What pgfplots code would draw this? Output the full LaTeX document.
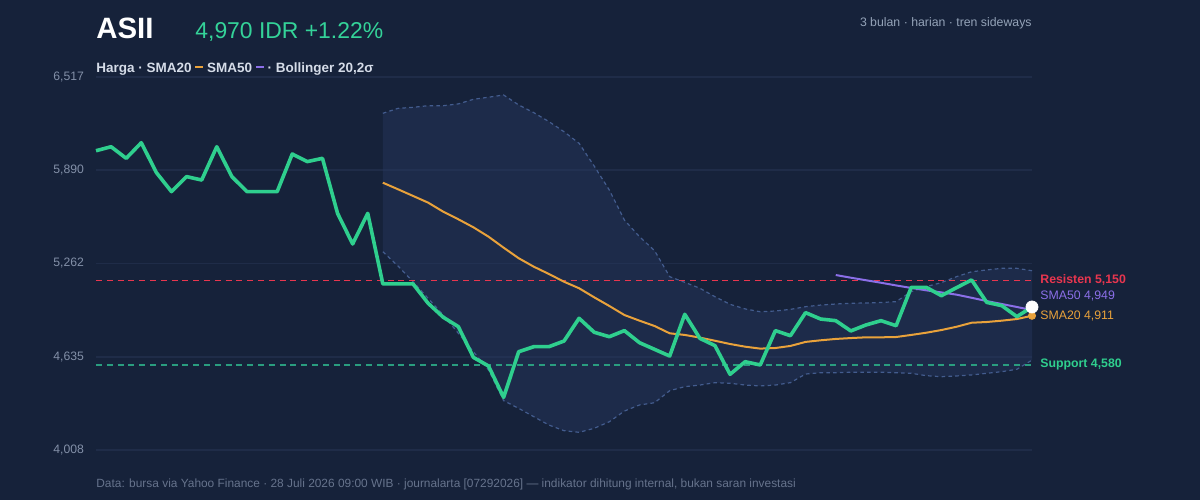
\documentclass[border=0pt]{standalone}
\usepackage{pgfplots}
\pgfplotsset{compat=1.18}
\usepackage{pgfplotstable}
\usepackage{fontspec}
\setmainfont{Liberation Sans}
\definecolor{bgc}{HTML}{16223A}
\definecolor{gridc}{HTML}{1F2C48}
\definecolor{bandc}{HTML}{26385F}
\definecolor{banddash}{HTML}{435C8E}
\definecolor{pricec}{HTML}{2FCF8E}
\definecolor{titlegreen}{HTML}{34D399}
\definecolor{orangec}{HTML}{E9A23B}
\definecolor{purplec}{HTML}{8B6FE8}
\definecolor{redc}{HTML}{E8364F}
\definecolor{suppc}{HTML}{2A9D7F}
\definecolor{tickgray}{HTML}{8390A8}
\definecolor{legc}{HTML}{D5DCE8}
\definecolor{subgray}{HTML}{94A3B8}
\definecolor{footgray}{HTML}{66738C}

\pgfplotstableread{
x y
0 6021
1 6048
2 5970
3 6075
4 5874
5 5746
6 5847
7 5824
8 6048
9 5847
10 5746
11 5746
12 5746
13 5999
14 5948
15 5970
16 5600
17 5394
18 5600
19 5125
20 5125
21 5125
22 4995
23 4901
24 4838
25 4631
26 4573
27 4362
28 4669
29 4703
30 4703
31 4741
32 4894
33 4800
34 4770
35 4811
36 4730
37 4685
38 4640
39 4921
40 4759
41 4710
42 4517
43 4602
44 4580
45 4811
46 4777
47 4932
48 4889
49 4878
50 4809
51 4849
52 4878
53 4844
54 5102
55 5102
56 5046
57 5100
58 5152
59 5001
60 4979
61 4905
62 4970
}\price

\pgfplotstableread{
x y
19 5806
20 5762
21 5717
22 5672
23 5611
24 5560
25 5506
26 5443
27 5369
28 5298
29 5241
30 5192
31 5140
32 5096
33 5035
34 4977
35 4916
36 4878
37 4842
38 4793
39 4782
40 4764
41 4743
42 4721
43 4703
44 4690
45 4694
46 4708
47 4735
48 4746
49 4755
50 4761
51 4766
52 4766
53 4768
54 4782
55 4797
56 4815
57 4837
58 4864
59 4869
60 4878
61 4889
62 4911
}\smatwenty

\pgfplotstableread{
x y
49 5185
50 5167
51 5150
52 5133
53 5115
54 5098
55 5082
56 5068
57 5053
58 5032
59 5010
60 4990
61 4970
62 4949
}\smafifty

\pgfplotstableread{
x up lo
19 6273 5342
20 6306 5246
21 6313 5140
22 6324 5028
23 6324 4916
24 6336 4793
25 6367 4669
26 6381 4546
27 6396 4340
28 6329 4288
29 6277 4232
30 6217 4176
31 6149 4138
32 6071 4127
33 5918 4154
34 5757 4198
35 5555 4270
36 5443 4311
37 5349 4326
38 5174 4407
39 5136 4434
40 5096 4445
41 5039 4461
42 4988 4457
43 4957 4445
44 4938 4439
45 4943 4445
46 4954 4461
47 4972 4519
48 4983 4528
49 4990 4528
50 4995 4531
51 4997 4531
52 5000 4531
53 5006 4528
54 5073 4524
55 5107 4508
56 5134 4501
57 5174 4506
58 5207 4513
59 5219 4524
60 5230 4535
61 5230 4551
62 5214 4613
}\boll

% band outline: upper band forward, lower band backward
\pgfplotstableread{
x y
19 6273
20 6306
21 6313
22 6324
23 6324
24 6336
25 6367
26 6381
27 6396
28 6329
29 6277
30 6217
31 6149
32 6071
33 5918
34 5757
35 5555
36 5443
37 5349
38 5174
39 5136
40 5096
41 5039
42 4988
43 4957
44 4938
45 4943
46 4954
47 4972
48 4983
49 4990
50 4995
51 4997
52 5000
53 5006
54 5073
55 5107
56 5134
57 5174
58 5207
59 5219
60 5230
61 5230
62 5214
62 4613
61 4551
60 4535
59 4524
58 4513
57 4506
56 4501
55 4508
54 4524
53 4528
52 4531
51 4531
50 4531
49 4528
48 4528
47 4519
46 4461
45 4445
44 4439
43 4445
42 4457
41 4461
40 4445
39 4434
38 4407
37 4326
36 4311
35 4270
34 4198
33 4154
32 4127
31 4138
30 4176
29 4232
28 4288
27 4340
26 4546
25 4669
24 4793
23 4916
22 5028
21 5140
20 5246
19 5342
}\bandpoly

\begin{document}
\begin{tikzpicture}
\fill[bgc] (0,0) rectangle (600pt,250pt);

\node[anchor=base west, inner sep=0, font=\bfseries\fontsize{14.7}{16}\selectfont, text=white] at (48pt,231pt) {ASII};
\node[anchor=base west, inner sep=0, font=\fontsize{11.45}{13}\selectfont, text=titlegreen] at (97.5pt,231pt) {4,970 IDR +1.22\%};
\node[anchor=base east, inner sep=0, font=\fontsize{6.15}{7}\selectfont, text=subgray] at (516pt,237pt) {3 bulan · harian · tren sideways};
\node[anchor=base west, inner sep=0, font=\bfseries\fontsize{6.75}{8}\selectfont, text=legc] at (48pt,214pt) {Harga · SMA20 \textcolor{orangec}{\rule[2pt]{4pt}{1pt}} SMA50 \textcolor{purplec}{\rule[2pt]{4pt}{1pt}} · Bollinger 20,2σ};
\node[anchor=base west, inner sep=0, font=\fontsize{5.95}{7}\selectfont, text=footgray] at (48pt,6.5pt) {Data: bursa via Yahoo Finance · 28 Juli 2026 09:00 WIB · journalarta [07292026] — indikator dihitung internal, bukan saran investasi};

\begin{axis}[
  at={(48pt,25pt)}, anchor=south west,
  scale only axis, width=468pt, height=186.5pt,
  xmin=0, xmax=62, ymin=4008, ymax=6517,
  axis line style={draw=none},
  xtick=\empty,
  ytick={4008,4635.25,5262.5,5889.75,6517},
  yticklabels={{4,008},{4,635},{5,262},{5,890},{6,517}},
  major tick length=0pt,
  ymajorgrids, grid style={draw=gridc, line width=0.9pt},
  yticklabel style={font=\fontsize{6.1}{7}\selectfont, text=tickgray, xshift=-2.5pt},
  clip=false,
]
\addplot[fill=bandc, fill opacity=0.45, draw=none] table[x=x, y=y] {\bandpoly} -- cycle;
\addplot[banddash, line width=0.6pt, dash pattern=on 1.8pt off 1.6pt] table[x=x, y=up] {\boll};
\addplot[banddash, line width=0.6pt, dash pattern=on 1.8pt off 1.6pt] table[x=x, y=lo] {\boll};

\addplot[redc, line width=0.6pt, dash pattern=on 3pt off 2.4pt] coordinates {(0,5150) (62,5150)};
\addplot[suppc, line width=0.6pt, dash pattern=on 3pt off 2.4pt] coordinates {(0,4580) (62,4580)};

\addplot[orangec, line width=1pt] table[x=x, y=y] {\smatwenty};
\addplot[purplec, line width=1pt] table[x=x, y=y] {\smafifty};
\addplot[pricec, line width=1.8pt, line join=round] table[x=x, y=y] {\price};

\addplot[only marks, mark=*, mark size=1.6pt, color=purplec] coordinates {(62,4949)};
\addplot[only marks, mark=*, mark size=1.8pt, color=orangec] coordinates {(62,4911)};
\addplot[only marks, mark=*, mark size=3pt, color=white] coordinates {(62,4970)};

\node[anchor=west, inner sep=0, xshift=4pt, font=\bfseries\fontsize{6.15}{7}\selectfont, text=redc] at (axis cs:62,5150) {Resisten 5,150};
\node[anchor=west, inner sep=0, xshift=4pt, font=\fontsize{6.15}{7}\selectfont, text=purplec] at (axis cs:62,5044) {SMA50 4,949};
\node[anchor=west, inner sep=0, xshift=4pt, font=\fontsize{6.15}{7}\selectfont, text=orangec] at (axis cs:62,4909) {SMA20 4,911};
\node[anchor=west, inner sep=0, xshift=4pt, font=\bfseries\fontsize{6.15}{7}\selectfont, text=pricec] at (axis cs:62,4580) {Support 4,580};
\end{axis}
\end{tikzpicture}
\end{document}
